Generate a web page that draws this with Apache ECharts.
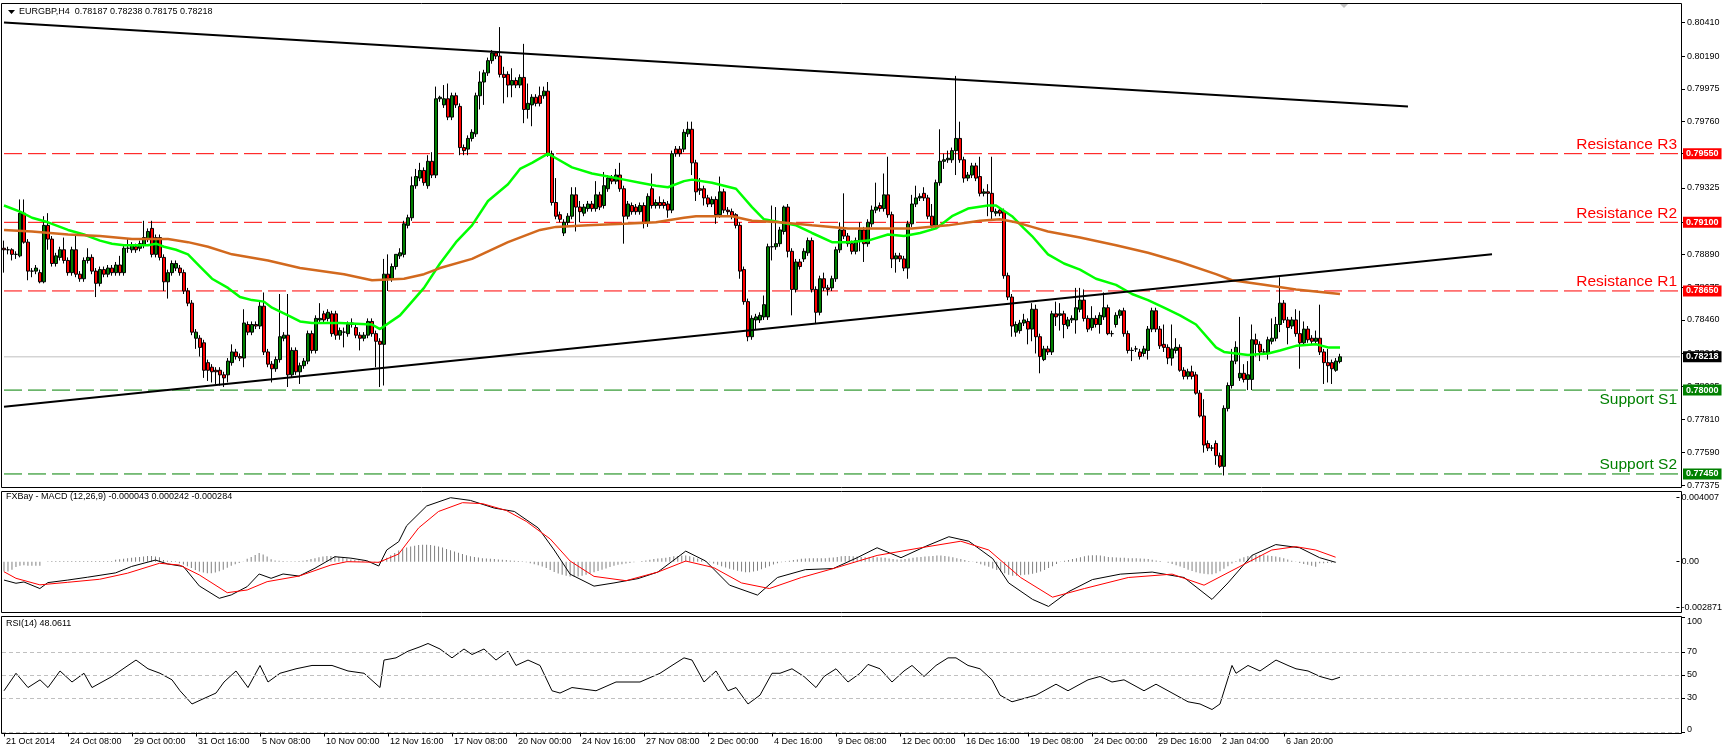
<!DOCTYPE html>
<html><head><meta charset="utf-8">
<script src="https://cdn.jsdelivr.net/npm/echarts@6/dist/echarts.min.js"></script>
<style>html,body{margin:0;padding:0;background:#fff;}#c{width:1725px;height:753px;}</style>
</head><body><div id="c"></div>
<script>
// ---------------- DATA ----------------
const SLOTS = 420; // bar slots across the chart width (335 bars drawn, rest is the empty shift area)
const xTickBars = [0,16,32,48,64,80,96,112,128,144,160,176,192,208,224,240,256,272,288,304,320];
const xTickLabels = ['21 Oct 2014','24 Oct 08:00','29 Oct 00:00','31 Oct 16:00','5 Nov 08:00','10 Nov 00:00','12 Nov 16:00','17 Nov 08:00','20 Nov 00:00','24 Nov 16:00','27 Nov 08:00','2 Dec 00:00','4 Dec 16:00','9 Dec 08:00','12 Dec 00:00','16 Dec 16:00','19 Dec 08:00','24 Dec 00:00','29 Dec 16:00','2 Jan 04:00','6 Jan 20:00'];

const priceTicks = [0.80410,0.80190,0.79975,0.79760,0.79550,0.79325,0.79100,0.78890,0.78675,0.78460,0.78240,0.78025,0.77810,0.77590,0.77375];
const macdTicks = [0.004007,0,-0.002871];
const macdTickLabels = ['0.004007','0.00','-0.002871'];
const rsiTicks = [100,70,50,30,0];
const rsiLevels = [70,50,30,0];

const levelValues = [0.7955,0.7910,0.7865,0.7800,0.7745];
const levelNames = ['Resistance R3','Resistance R2','Resistance R1','Support S1','Support S2'];
const lastPrice = 0.78218;
const titleText = 'EURGBP,H4  0.78187 0.78238 0.78175 0.78218';
const macdTitle = 'FXBay - MACD (12,26,9) -0.000043 0.000242 -0.000284';
const rsiTitle = 'RSI(14) 48.0611';

// candles: [open, close, low, high] in units of 0.0001
const candles = [
[7893,7892,7877,7898],[7892,7892,7889,7894],[7892,7889,7885,7893],[7889,7889,7886,7891],[7888,7916,7887,7925],
[7916,7897,7896,7925],[7897,7878,7872,7899],[7878,7878,7874,7880],[7878,7880,7876,7882],[7877,7871,7870,7879],
[7871,7908,7870,7914],[7908,7899,7892,7916],[7899,7883,7881,7901],[7883,7888,7881,7890],[7887,7892,7885,7894],
[7892,7885,7883,7900],[7885,7877,7875,7887],[7877,7892,7875,7894],[7892,7876,7874,7902],[7876,7873,7871,7878],
[7873,7885,7871,7887],[7885,7887,7883,7893],[7887,7878,7876,7889],[7878,7870,7861,7880],[7870,7879,7868,7881],
[7879,7876,7874,7881],[7876,7880,7874,7882],[7880,7877,7875,7882],[7877,7882,7875,7884],[7882,7877,7875,7888],
[7877,7893,7875,7895],[7893,7893,7890,7899],[7892,7895,7890,7897],[7894,7892,7890,7896],[7893,7896,7891,7898],
[7895,7900,7893,7911],[7899,7904,7897,7906],[7906,7889,7887,7911],[7889,7900,7887,7902],[7900,7887,7885,7902],
[7887,7871,7865,7889],[7871,7877,7860,7879],[7877,7883,7875,7885],[7880,7883,7878,7885],[7880,7877,7875,7882],
[7877,7865,7863,7879],[7865,7857,7855,7867],[7857,7838,7836,7859],[7834,7838,7827,7840],[7834,7828,7822,7836],
[7831,7813,7808,7833],[7818,7813,7806,7820],[7815,7812,7805,7817],[7813,7812,7804,7815],[7813,7810,7803,7815],
[7810,7808,7802,7812],[7810,7819,7805,7821],[7818,7825,7816,7830],[7825,7822,7820,7827],[7822,7821,7819,7824],
[7821,7844,7815,7853],[7843,7838,7836,7845],[7838,7843,7836,7845],[7843,7842,7840,7845],[7842,7855,7840,7859],
[7855,7825,7823,7864],[7825,7817,7815,7827],[7817,7814,7805,7819],[7814,7820,7812,7822],[7820,7835,7818,7863],
[7834,7836,7832,7838],[7836,7810,7802,7863],[7810,7826,7808,7828],[7826,7812,7810,7828],[7812,7816,7804,7818],
[7816,7819,7814,7821],[7819,7837,7817,7839],[7837,7826,7824,7839],[7826,7847,7824,7849],[7846,7847,7844,7857],
[7850,7846,7844,7852],[7847,7851,7845,7853],[7850,7837,7835,7852],[7850,7836,7833,7852],[7836,7839,7833,7841],
[7838,7838,7828,7841],[7837,7843,7835,7845],[7843,7844,7841,7847],[7841,7836,7834,7843],[7836,7834,7826,7838],
[7834,7836,7832,7838],[7836,7845,7834,7847],[7845,7837,7835,7847],[7837,7832,7815,7839],[7832,7830,7802,7834],
[7830,7876,7803,7886],[7876,7873,7865,7889],[7873,7881,7871,7883],[7881,7889,7879,7889],[7888,7890,7886,7893],
[7889,7909,7887,7911],[7908,7913,7906,7915],[7913,7934,7911,7940],[7934,7940,7932,7945],[7939,7944,7937,7949],
[7944,7936,7934,7946],[7934,7950,7932,7954],[7950,7941,7939,7956],[7941,7991,7939,7999],[7991,7992,7989,7993],
[7987,7991,7985,8000],[7991,7979,7977,8001],[7979,7993,7977,7995],[7993,7987,7985,7995],[7986,7959,7954,7988],
[7959,7957,7954,7961],[7958,7965,7954,7967],[7965,7969,7963,7971],[7968,7993,7966,7995],[7993,8002,7984,8009],
[8002,8008,7987,8010],[8008,8016,8006,8018],[8016,8021,8014,8023],[8021,8019,8017,8022],[8019,8007,8005,8038],
[8007,8005,7988,8012],[8007,8000,7992,8009],[8000,8003,7992,8011],[8003,8000,7998,8005],[8000,8005,7998,8007],
[8005,7984,7975,8027],[7984,7988,7978,8001],[7987,7992,7973,7994],[7992,7988,7986,7994],[7993,7988,7986,7999],
[7993,7996,7991,7999],[7996,7955,7953,8002],[7955,7923,7921,7957],[7923,7914,7912,7939],[7915,7912,7910,7917],
[7903,7910,7901,7912],[7910,7914,7908,7916],[7914,7928,7912,7933],[7928,7920,7904,7933],[7920,7917,7910,7924],
[7916,7920,7914,7922],[7919,7922,7917,7924],[7922,7919,7917,7924],[7919,7928,7917,7937],[7928,7920,7918,7930],
[7921,7934,7919,7943],[7932,7939,7930,7941],[7939,7937,7935,7941],[7937,7941,7935,7945],[7941,7932,7930,7949],
[7932,7914,7896,7934],[7914,7922,7912,7924],[7921,7917,7915,7923],[7920,7917,7915,7922],[7917,7921,7915,7923],
[7921,7910,7906,7923],[7910,7927,7907,7929],[7932,7921,7919,7942],[7921,7923,7919,7925],[7923,7921,7919,7927],
[7923,7921,7919,7925],[7922,7918,7913,7924],[7918,7955,7916,7957],[7958,7955,7953,7960],[7958,7955,7953,7960],
[7958,7969,7956,7971],[7968,7971,7966,7976],[7971,7949,7941,7976],[7949,7930,7924,7951],[7932,7931,7928,7939],
[7932,7926,7921,7934],[7926,7922,7920,7928],[7922,7925,7920,7927],[7925,7915,7909,7927],[7915,7930,7913,7940],
[7930,7918,7916,7932],[7918,7917,7915,7920],[7917,7914,7912,7919],[7915,7908,7906,7916],[7908,7878,7873,7910],
[7879,7858,7856,7881],[7858,7835,7832,7860],[7835,7847,7833,7849],[7846,7848,7840,7850],[7846,7849,7844,7851],
[7848,7856,7846,7862],[7848,7894,7846,7896],[7894,7894,7885,7921],[7894,7896,7892,7920],[7896,7905,7894,7907],
[7904,7920,7902,7921],[7920,7891,7887,7922],[7891,7866,7849,7893],[7866,7884,7864,7886],[7884,7881,7879,7886],
[7886,7891,7884,7893],[7890,7898,7888,7900],[7898,7866,7864,7900],[7866,7851,7844,7868],[7851,7873,7849,7875],
[7873,7867,7865,7877],[7867,7866,7862,7869],[7867,7873,7865,7875],[7873,7892,7871,7894],[7892,7905,7890,7910],
[7905,7901,7899,7929],[7901,7896,7894,7903],[7896,7891,7889,7898],[7891,7898,7889,7900],[7898,7905,7891,7910],
[7905,7896,7884,7907],[7896,7910,7894,7912],[7909,7918,7907,7921],[7918,7920,7916,7936],[7921,7919,7917,7923],
[7919,7928,7917,7942],[7928,7915,7913,7953],[7915,7886,7880,7917],[7886,7888,7877,7890],[7888,7886,7884,7890],
[7886,7880,7878,7888],[7880,7909,7873,7911],[7909,7922,7907,7928],[7922,7926,7920,7934],[7926,7927,7924,7929],
[7929,7926,7924,7933],[7926,7914,7912,7928],[7914,7908,7906,7922],[7908,7936,7906,7938],[7936,7950,7934,7971],
[7950,7951,7945,7955],[7951,7952,7949,7957],[7951,7957,7949,7959],[7957,7965,7941,8006],[7965,7951,7949,7976],
[7951,7939,7936,7953],[7939,7941,7937,7943],[7941,7947,7939,7949],[7947,7939,7937,7949],[7940,7929,7927,7953],
[7929,7930,7927,7932],[7930,7929,7914,7935],[7929,7917,7911,7953],[7916,7917,7914,7919],[7918,7916,7914,7920],
[7917,7875,7873,7919],[7875,7861,7859,7877],[7861,7842,7835,7863],[7838,7843,7835,7845],[7839,7844,7837,7846],
[7844,7846,7842,7850],[7845,7840,7830,7847],[7840,7853,7832,7857],[7853,7835,7824,7856],[7835,7822,7811,7837],
[7820,7827,7819,7829],[7827,7825,7823,7829],[7825,7850,7823,7852],[7850,7848,7842,7858],[7849,7850,7839,7857],
[7850,7843,7834,7852],[7842,7846,7840,7848],[7846,7847,7844,7849],[7846,7854,7837,7867],[7853,7859,7851,7867],
[7859,7847,7845,7866],[7847,7840,7838,7849],[7841,7847,7839,7855],[7847,7843,7841,7849],[7843,7849,7837,7851],
[7848,7854,7846,7864],[7854,7837,7836,7856],[7837,7837,7835,7839],[7843,7849,7841,7851],[7849,7852,7847,7853],
[7852,7837,7835,7854],[7837,7826,7824,7839],[7826,7826,7819,7828],[7827,7827,7825,7829],[7825,7822,7820,7827],
[7824,7827,7822,7829],[7826,7840,7820,7842],[7840,7852,7838,7854],[7852,7840,7838,7854],[7840,7829,7827,7842],
[7830,7828,7825,7843],[7828,7821,7817,7830],[7821,7827,7816,7843],[7826,7828,7824,7834],[7828,7813,7812,7830],
[7813,7809,7807,7815],[7809,7812,7807,7814],[7812,7809,7807,7816],[7810,7798,7797,7812],[7798,7783,7782,7800],
[7783,7764,7759,7794],[7765,7762,7760,7767],[7762,7762,7760,7764],[7765,7757,7751,7767],[7757,7750,7749,7759],
[7750,7788,7744,7790],[7788,7803,7786,7805],[7803,7819,7801,7827],[7819,7828,7817,7832],[7808,7811,7806,7848],
[7811,7807,7805,7817],[7807,7810,7800,7819],[7807,7833,7800,7843],[7833,7830,7822,7837],[7830,7825,7819,7832],
[7825,7825,7823,7827],[7824,7833,7820,7835],[7832,7834,7830,7847],[7834,7843,7832,7848],[7843,7857,7838,7874],
[7857,7846,7844,7859],[7846,7841,7830,7848],[7842,7846,7840,7848],[7846,7837,7835,7853],[7837,7831,7814,7852],
[7831,7840,7829,7845],[7840,7833,7831,7842],[7834,7832,7830,7836],[7832,7834,7830,7839],[7834,7825,7823,7856],
[7825,7818,7804,7827],[7818,7816,7805,7827],[7818,7814,7804,7820],[7813,7819,7812,7821],[7818.7,7821.8,7817.5,7823.8]
];

// moving averages: [bar, price in 0.0001]
const maFast = [[0,7921],[4,7917],[7,7913],[11,7910],[16,7905],[20,7902],[22,7900],[24,7898],[27,7896],[30,7895],[36,7895],[38,7896],[40,7894],[43,7892],[46,7889],[49,7881],[52,7873],[56,7867],[59,7861],[62,7859],[65,7858],[67,7854],[71,7849],[74,7845],[77,7844],[84,7844],[92,7843],[94,7840],[99,7849],[105,7867],[109,7883],[113,7897],[117,7908],[121,7924],[126,7935],[129,7945],[132,7949],[136,7955],[138,7952],[142,7946],[147,7942],[151,7940],[155,7938],[159,7936],[163,7934],[166,7933],[170,7937],[172,7938],[177,7936],[183,7932],[187,7920],[190,7912],[194,7910],[198,7908],[202,7903],[207,7897],[211,7897],[216,7898],[221,7902],[225,7901],[229,7903],[233,7906],[237,7914],[241,7919],[246,7921],[248,7921],[252,7914],[255,7906],[257,7901],[261,7889],[265,7883],[269,7879],[273,7873],[278,7869],[282,7863],[286,7859],[290,7854],[294,7849],[298,7843],[303,7828],[305,7825],[311,7823],[316,7824],[319,7826],[323,7829],[328,7830],[331,7828],[334,7828]];
const maSlow = [[0,7905],[7,7904],[16,7902],[24,7901],[32,7899],[41,7899],[46,7897],[51,7894],[57,7889],[66,7885],[74,7880],[85,7876],[92,7872],[100,7873],[105,7876],[109,7880],[117,7886],[126,7897],[134,7905],[138,7907],[146,7908],[155,7909],[163,7910],[170,7913],[173,7914],[182,7914],[187,7911],[194,7910],[202,7908],[211,7906],[219,7906],[227,7906],[236,7908],[244,7911],[249,7912],[253,7910],[257,7907],[261,7904],[269,7900],[278,7895],[286,7890],[294,7884],[303,7876],[307,7872],[315,7869],[323,7866],[334,7863]];
const upperTrend = [[0,8041],[351,7986]];
const lowerTrend = [[0,7789],[372,7889]];

// MACD in units of 0.00001
const macdMain = [[0,-115],[3,-135],[5,-127],[9,-168],[11,-131],[16,-115],[21,-97],[28,-70],[32,-30],[38,10],[41,-14],[45,-30],[49,-152],[54,-229],[57,-208],[61,-156],[64,-77],[67,-104],[70,-77],[74,-90],[78,-41],[83,31],[87,22],[91,6],[94,-27],[96,73],[99,125],[101,225],[106,348],[112,400],[117,383],[123,335],[128,314],[134,211],[138,73],[142,-78],[148,-153],[153,-133],[159,-106],[164,-65],[171,66],[176,4],[182,-147],[189,-209],[194,-99],[201,-50],[208,-43],[214,25],[219,87],[225,25],[231,94],[237,156],[242,128],[248,19],[252,-133],[258,-236],[262,-280],[267,-188],[273,-112],[280,-78],[288,-65],[296,-99],[303,-236],[307,-133],[313,39],[319,107],[325,87],[330,25],[334,-4]];
const macdSignal = [[0,-63],[3,-104],[9,-145],[16,-129],[24,-110],[31,-72],[39,-10],[44,-21],[49,-83],[56,-194],[61,-177],[66,-125],[74,-90],[82,-21],[86,0],[94,-4],[99,48],[104,211],[109,314],[115,369],[120,363],[126,320],[131,252],[137,142],[142,4],[148,-92],[156,-119],[164,-65],[171,4],[178,-37],[185,-133],[192,-168],[200,-99],[208,-43],[219,39],[230,87],[240,128],[247,73],[255,-99],[263,-222],[271,-168],[282,-99],[293,-78],[301,-147],[310,-30],[318,73],[324,94],[329,73],[334,28]];
const macdHist = [
-61,-61,-51,-34,-26,-22,-26,-26,-26,-26, 0,2,
4,4,4,4,4,4,4,4,4,4,4,4,4,4,4,4,
12,15,18,22,25,28,30,33,35,36,33,28,
10,6,4,2,
-10,-18,-28,-40,-52,-62,-68,-72,-72,-68,-60,-50,-38,
-26,-16,-8,-2,
18,30,42,55,45,32,
15,8,5,4,3,3,3,4,6,10,
16,22,28,33,36,36,34,30,26,20,14,
10,8,6,4,2,-4,-8,
10,25,40,55,70,
80,88,95,100,104,106,106,104,100,95,88,80,72,64,56,48,40,34,30,26,22,20,18,16,14,12,10,8,6,4,2,
-4,-10,-16,-22,-30,-40,-52,-64,-74,-82,-88,-92,-94,-92,-88,-82,-74,-66,-58,-50,-42,-34,-26,-20,-16,-12,-8,-4,
0,4,8,12,16,20,22,24,30,34,36,38,38,34,28,20,12,4,
-4,-12,-20,-28,-36,-44,-50,-56,-62,-66,-66,-62,-56,-48,-38,-28,-18,-10,-4,
2,6,10,14,18,20,22,22,22,22,22,24,26,30,34,36,36,34,32,30,28,28,28,28,26,24,20,16,14,14,16,20,24,28,30,32,34,36,38,38,36,32,28,22,16,10,4,
-2,-8,-16,-24,-32,-42,-52,-62,-72,-82,-88,-88,-85,-82,-80,-76,-70,-62,-52,-40,-28,-14,-2,6,
10,16,22,28,34,38,40,40,38,34,30,28,26,24,24,22,22,22,20,18,16,12,8,4,
0,-6,-14,-22,-30,-40,-50,-58,-66,-72,-76,-78,-79,-72,-60,-44,-28,
-12,4,18,28,36,40,42,42,40,38,35,33,28,22,14,6,-2,-8,-14,-20,-26,-32,
-10,-10,-8,-6,-4
];

// RSI(14): [bar, value]
const rsi = [[0,36.3],[3,51.5],[6,39.1],[9,45.8],[11,39.1],[14,53.5],[17,43.9],[20,51.5],[22,39.1],[27,48.7],[31,58.3],[33,63.0],[36,55.4],[39,51.5],[42,45.8],[44,36.3],[47,24.8],[50,29.6],[53,34.3],[55,43.9],[58,53.5],[61,39.1],[64,58.3],[66,43.9],[69,51.5],[73,55.4],[77,58.3],[82,58.3],[86,53.5],[90,51.5],[94,39.1],[95,63.0],[98,64.9],[101,70.7],[104,74.5],[106,77.4],[109,72.6],[112,64.9],[115,72.6],[117,67.8],[120,72.6],[123,63.0],[126,70.7],[128,58.3],[131,63.0],[134,58.3],[137,36.3],[139,34.3],[142,39.1],[148,36.3],[153,43.9],[159,43.9],[164,51.5],[167,58.3],[170,64.9],[172,63.0],[175,43.9],[178,53.5],[181,36.3],[183,39.1],[186,24.8],[189,32.5],[192,51.5],[194,51.5],[197,55.4],[200,48.7],[203,39.1],[205,48.7],[208,55.4],[211,43.9],[214,51.5],[216,59.2],[219,55.4],[222,43.9],[225,53.5],[227,58.3],[230,48.7],[233,58.3],[236,64.9],[238,64.9],[241,58.3],[244,55.4],[247,45.8],[249,32.5],[252,26.7],[255,29.6],[258,32.5],[260,36.3],[263,42.0],[266,36.3],[269,42.0],[271,45.8],[274,48.7],[277,43.9],[280,45.8],[282,42.0],[285,36.3],[288,42.0],[291,36.3],[293,32.5],[296,26.7],[299,24.8],[302,20.0],[304,24.8],[307,58.3],[308,51.5],[311,58.3],[314,53.5],[318,63.0],[321,58.3],[323,55.4],[326,53.5],[329,48.7],[332,45.8],[334,48.06]];

// ---------------- CHART ----------------
const FONT = 'Liberation Sans';
const P = v => v / 10000;
const M = v => v / 100000;
const tickMap = {}; xTickBars.forEach((b, k) => tickMap[b] = xTickLabels[k]);
const categories = Array.from({length: SLOTS}, (_, i) => String(i));

const G = {left: 2, width: 1680};
const grids = [
  {left: G.left, width: G.width, top: 3, height: 485},
  {left: G.left, width: G.width, top: 491, height: 122},
  {left: G.left, width: G.width, top: 617.5, height: 115}
];

function xAx(idx, show) {
  return {
    type: 'category', gridIndex: idx, data: categories, boundaryGap: true,
    axisLine: {show: false},
    axisTick: show ? {show: true, alignWithLabel: true, length: 4, lineStyle: {color: '#000'},
      interval: (i) => tickMap[i] !== undefined} : {show: false},
    axisLabel: show ? {show: true, interval: (i) => tickMap[i] !== undefined,
      formatter: (v, i) => tickMap[i] || '', align: 'left', margin: 5, padding: [0, 0, 0, 2],
      color: '#000', fontFamily: FONT, fontSize: 9} : {show: false},
    splitLine: {show: false}
  };
}
function yAx(idx, min, max, ticks, fmt, rich) {
  return {
    type: 'value', gridIndex: idx, position: 'right', min, max, scale: true,
    axisLine: {show: false}, splitLine: {show: false},
    axisTick: {show: true, customValues: ticks, length: 3, lineStyle: {color: '#000'}},
    axisLabel: {show: true, customValues: ticks, formatter: fmt, margin: 5, color: '#000',
      fontFamily: FONT, fontSize: 9, rich: rich || {}}
  };
}

// horizontal level lines: one line series per level spanning every slot
const levelSeries = [];
levelValues.forEach((v, i) => {
  const isRes = levelNames[i].indexOf('Resistance') === 0;
  levelSeries.push({type: 'line', xAxisIndex: 0, yAxisIndex: 0, z: 2, showSymbol: false, silent: true,
    data: [[0, v], [SLOTS - 1, v]],
    lineStyle: {color: isRes ? '#ff0000' : '#008000', width: 1, type: [18, 6]}});
});
levelSeries.push({type: 'line', xAxisIndex: 0, yAxisIndex: 0, z: 1, showSymbol: false, silent: true,
  data: [[0, lastPrice], [SLOTS - 1, lastPrice]], lineStyle: {color: '#c0c0c0', width: 1}});

const option = {
  animation: false,
  backgroundColor: '#ffffff',
  grid: grids,
  xAxis: [xAx(0, false), xAx(1, false), xAx(2, true)],
  yAxis: [
    yAx(0, 0.77358, 0.80538, priceTicks, v => v.toFixed(5)),
    yAx(1, -0.00321, 0.00442, macdTicks, v => {
      const k = macdTicks.findIndex(t => Math.abs(t - v) < 1e-9); return k >= 0 ? macdTickLabels[k] : '';
    }),
    yAx(2, 0, 100, rsiTicks, v => v === 100 ? '{t|100}' : (v === 0 ? '{b|0}' : String(v)),
      {t: {padding: [9, 0, 0, 0], fontFamily: FONT, fontSize: 9, color: '#000'},
       b: {padding: [0, 0, 5, 0], fontFamily: FONT, fontSize: 9, color: '#000'}})
  ],
  series: levelSeries.concat([
    {type: 'candlestick', xAxisIndex: 0, yAxisIndex: 0, barWidth: 3, z: 3,
      data: candles.map(c => c.map(P)),
      itemStyle: {color: '#008000', color0: '#ff0000', borderColor: '#000', borderColor0: '#000', borderWidth: 1}},
    {type: 'line', xAxisIndex: 0, yAxisIndex: 0, z: 4, showSymbol: false, data: maFast.map(d => [d[0], P(d[1])]),
      lineStyle: {color: '#00ff00', width: 2.5}},
    {type: 'line', xAxisIndex: 0, yAxisIndex: 0, z: 4, showSymbol: false, data: maSlow.map(d => [d[0], P(d[1])]),
      lineStyle: {color: '#d2691e', width: 2.5}},
    {type: 'line', xAxisIndex: 0, yAxisIndex: 0, z: 5, showSymbol: false, data: upperTrend.map(d => [d[0], P(d[1])]),
      lineStyle: {color: '#000', width: 2}},
    {type: 'line', xAxisIndex: 0, yAxisIndex: 0, z: 5, showSymbol: false, data: lowerTrend.map(d => [d[0], P(d[1])]),
      lineStyle: {color: '#000', width: 2}},
    {type: 'bar', xAxisIndex: 1, yAxisIndex: 1, barWidth: 1, data: macdHist.map(M),
      itemStyle: {color: '#808080'}},
    {type: 'line', xAxisIndex: 1, yAxisIndex: 1, showSymbol: false, data: macdMain.map(d => [d[0], M(d[1])]),
      lineStyle: {color: '#000', width: 1}},
    {type: 'line', xAxisIndex: 1, yAxisIndex: 1, showSymbol: false, data: macdSignal.map(d => [d[0], M(d[1])]),
      lineStyle: {color: '#ff0000', width: 1}},
    {type: 'line', xAxisIndex: 2, yAxisIndex: 2, showSymbol: false, data: rsi,
      lineStyle: {color: '#000', width: 1},
      markLine: {silent: true, symbol: 'none', animation: false, label: {show: false},
        lineStyle: {color: '#c0c0c0', type: [4, 3], width: 1},
        data: rsiLevels.map(v => ({yAxis: v}))}}
  ]),
  graphic: [
    {type: 'rect', shape: {x: 1.5, y: 3.5, width: 1680, height: 484}, style: {fill: null, stroke: '#000', lineWidth: 1}, silent: true, z: 10},
    {type: 'rect', shape: {x: 1.5, y: 491.5, width: 1680, height: 121}, style: {fill: null, stroke: '#000', lineWidth: 1}, silent: true, z: 10},
    {type: 'rect', shape: {x: 1.5, y: 616.5, width: 1680, height: 117}, style: {fill: null, stroke: '#000', lineWidth: 1}, silent: true, z: 10},
    {type: 'polygon', shape: {points: [[8, 10], [15, 10], [11.5, 14]]}, style: {fill: '#000'}, silent: true, z: 10},
    {type: 'polygon', shape: {points: [[1340, 4], [1348, 4], [1344, 8]]}, style: {fill: '#c0c0c0'}, silent: true, z: 10},
    {type: 'text', x: 19, y: 12, style: {text: titleText, fill: '#000', font: '9px "Liberation Sans"', textVerticalAlign: 'middle'}, silent: true, z: 10},
    {type: 'text', x: 6, y: 497, style: {text: macdTitle, fill: '#000', font: '9px "Liberation Sans"', textVerticalAlign: 'middle'}, silent: true, z: 10},
    {type: 'text', x: 6, y: 624, style: {text: rsiTitle, fill: '#000', font: '9px "Liberation Sans"', textVerticalAlign: 'middle'}, silent: true, z: 10}
  ]
};
const chart = echarts.init(document.getElementById('c'), null, {renderer: 'canvas'});
chart.setOption(option);

// level captions and price boxes, placed through the main y-axis scale
const gridRight = G.left + G.width;
const extra = [];
levelValues.forEach((v, i) => {
  const y = chart.convertToPixel({yAxisIndex: 0}, v);
  const isRes = levelNames[i].indexOf('Resistance') === 0;
  const col = isRes ? '#ff0000' : '#008000';
  const below = levelNames[i] === 'Support S1';
  extra.push({type: 'text', x: gridRight - 5, y: below ? y + 2 : y - 1, z: 20, silent: true,
    style: {text: levelNames[i], fill: col, font: '15.5px "Liberation Sans"', textAlign: 'right',
      textVerticalAlign: below ? 'top' : 'bottom'}});
  extra.push({type: 'text', x: gridRight + 1, y: y, z: 20, silent: true,
    style: {text: v.toFixed(5), fill: '#fff', font: 'bold 9px "Liberation Sans"', textVerticalAlign: 'middle',
      backgroundColor: col, padding: [1, 3, 1, 3]}});
});
const yl = chart.convertToPixel({yAxisIndex: 0}, lastPrice);
extra.push({type: 'text', x: gridRight + 1, y: yl, z: 20, silent: true,
  style: {text: lastPrice.toFixed(5), fill: '#fff', font: 'bold 9px "Liberation Sans"', textVerticalAlign: 'middle',
    backgroundColor: '#000', padding: [1, 3, 1, 3]}});
chart.setOption({graphic: option.graphic.concat(extra)});
</script></body></html>
